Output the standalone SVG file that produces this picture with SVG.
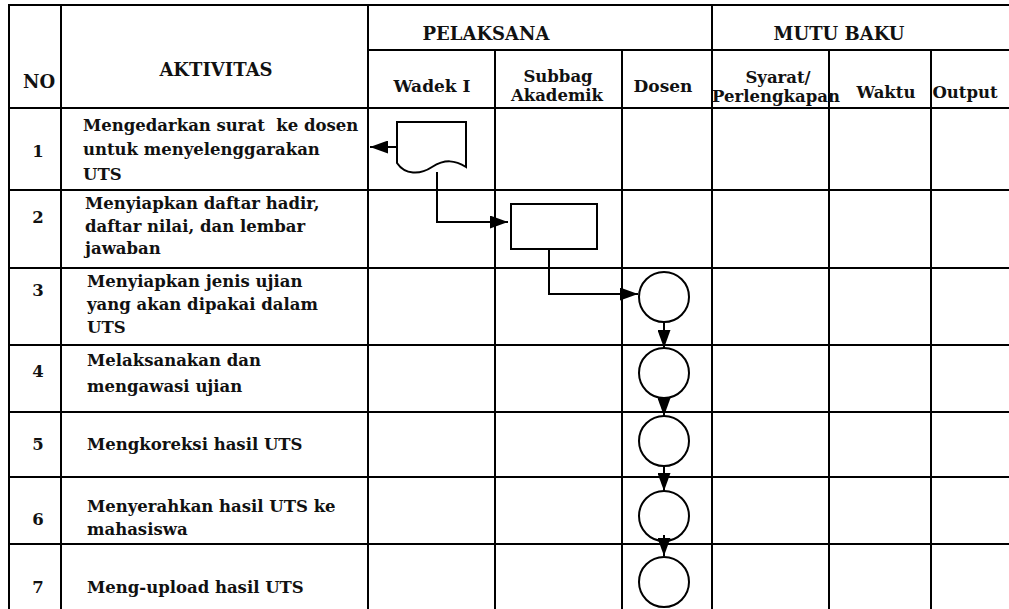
<svg xmlns="http://www.w3.org/2000/svg" width="1009" height="609" viewBox="0 0 1009 609">
<style>
.g{stroke:#000;stroke-width:2;fill:none}
.t{font-family:"DejaVu Serif","Liberation Serif",serif;font-weight:bold;font-size:16.5px;fill:#111}
.h{font-size:18px}
.m{font-size:17px}
.c{text-anchor:middle}
.s{stroke:#000;stroke-width:2;fill:#fff}
.k{stroke:#000;stroke-width:2;fill:none}
</style>
<defs>
<marker id="ah" viewBox="0 0 18 13" refX="18" refY="6.5" markerWidth="18" markerHeight="13" markerUnits="userSpaceOnUse" orient="auto">
<path d="M0,0 L18,6.5 L0,13 Z" fill="#000"/>
</marker>
</defs>
<rect width="1009" height="609" fill="#fff"/>
<g id="grid">
<path class="g" d="M9,4V609 M61,4V609 M368,4V609 M495,50V609 M622,50V609 M712,4V609 M829,50V609 M931,50V609"/>
<path class="g" d="M8,5H1009 M368,50H1009 M8,108H1009 M8,190H1009 M8,268H1009 M8,345H1009 M8,412H1009 M8,477H1009 M8,544H1009"/>
</g>
<g id="header">
<text class="t h c" x="39" y="88">NO</text>
<text class="t h c" x="216" y="76">AKTIVITAS</text>
<text class="t h c" x="486" y="40">PELAKSANA</text>
<text class="t h c" x="839" y="40">MUTU BAKU</text>
<text class="t m c" x="432" y="92">Wadek I</text>
<text class="t c" x="558" y="82">Subbag</text>
<text class="t c" x="557" y="101">Akademik</text>
<text class="t m c" x="663" y="92">Dosen</text>
<text class="t c" x="778" y="83">Syarat/</text>
<text class="t c" x="776" y="102">Perlengkapan</text>
<text class="t c" x="886" y="98">Waktu</text>
<text class="t c" x="965" y="98">Output</text>
</g>
<g id="rows">
<text class="t c" x="38" y="157">1</text>
<text class="t" x="83" y="131" style="white-space:pre">Mengedarkan surat  ke dosen</text>
<text class="t" x="83" y="155">untuk menyelenggarakan</text>
<text class="t" x="83" y="180">UTS</text>
<text class="t c" x="38" y="223">2</text>
<text class="t" x="85" y="209">Menyiapkan daftar hadir,</text>
<text class="t" x="85" y="232">daftar nilai, dan lembar</text>
<text class="t" x="85" y="254">jawaban</text>
<text class="t c" x="38" y="296">3</text>
<text class="t" x="87" y="287">Menyiapkan jenis ujian</text>
<text class="t" x="87" y="310">yang akan dipakai dalam</text>
<text class="t" x="87" y="333">UTS</text>
<text class="t c" x="38" y="377">4</text>
<text class="t" x="87" y="366">Melaksanakan dan</text>
<text class="t" x="87" y="392">mengawasi ujian</text>
<text class="t c" x="38" y="450">5</text>
<text class="t" x="87" y="450">Mengkoreksi hasil UTS</text>
<text class="t c" x="38" y="525">6</text>
<text class="t" x="87" y="512">Menyerahkan hasil UTS ke</text>
<text class="t" x="87" y="535">mahasiswa</text>
<text class="t c" x="38" y="593">7</text>
<text class="t" x="87" y="593">Meng-upload hasil UTS</text>
</g>
<g id="connectors">
<path class="k" d="M397,147H370" marker-end="url(#ah)"/>
<path class="k" d="M437,172V222H508" marker-end="url(#ah)"/>
<path class="k" d="M549,249V294H638" marker-end="url(#ah)"/>
<path class="k" d="M664,322V348" marker-end="url(#ah)"/>
<path class="k" d="M664,397V416" marker-end="url(#ah)"/>
<path class="k" d="M664,465V491" marker-end="url(#ah)"/>
<path class="k" d="M664,535V556" marker-end="url(#ah)"/>
</g>
<g id="n1"><path class="s" d="M397,122H466V167C455,160 445,159 432,167C420,175 405,175 397,163Z"/></g>
<g id="n2"><rect class="s" x="511" y="204" width="86" height="45"/></g>
<g id="n3"><circle class="k" cx="664" cy="297" r="25"/></g>
<g id="n4"><circle class="k" cx="664" cy="373" r="25"/></g>
<g id="n5"><circle class="k" cx="664" cy="441" r="25"/></g>
<g id="n6"><circle class="k" cx="664" cy="516" r="25"/></g>
<g id="n7"><circle class="k" cx="664" cy="582" r="25"/></g>
</svg>
